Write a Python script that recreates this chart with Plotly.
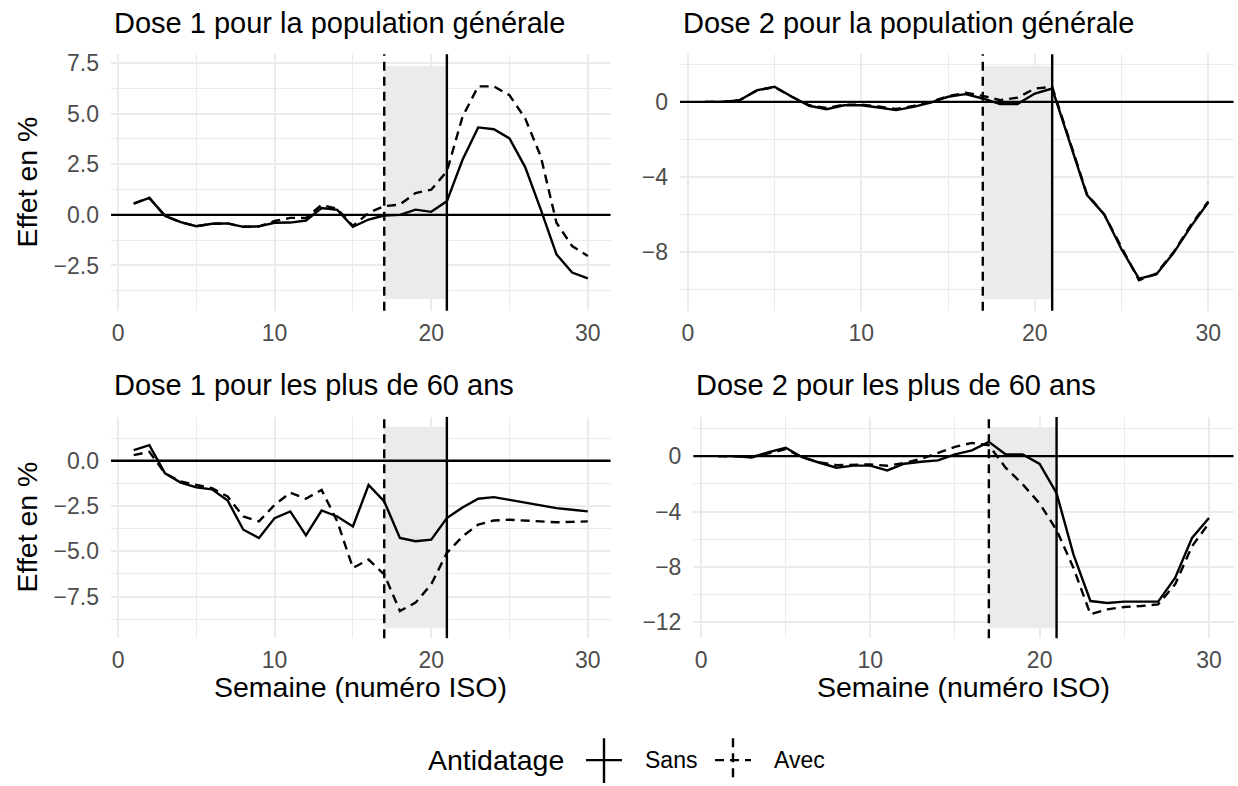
import plotly.graph_objects as go

W, H = 1238, 786

weeks = list(range(1, 31))

titles = ["Dose 1 pour la population générale", "Dose 2 pour la population générale",
          "Dose 1 pour les plus de 60 ans", "Dose 2 pour les plus de 60 ans"]

p1_sans = [0.56, 0.84, -0.05, -0.36, -0.56, -0.44, -0.42, -0.59, -0.57, -0.39, -0.38, -0.28, 0.34, 0.25, -0.59,
           -0.23, -0.03, 0.00, 0.26, 0.15, 0.67, 2.72, 4.32, 4.23, 3.78, 2.36, 0.26, -1.95, -2.85, -3.14]
p1_avec = [0.56, 0.84, -0.05, -0.36, -0.56, -0.44, -0.42, -0.59, -0.57, -0.30, -0.15, -0.15, 0.49, 0.30, -0.55,
           0.10, 0.43, 0.51, 1.08, 1.24, 2.15, 4.85, 6.35, 6.35, 5.91, 4.77, 2.88, -0.39, -1.54, -2.03]

p2_sans = [0.0, 0.0, 0.09, 0.62, 0.80, 0.27, -0.21, -0.39, -0.18, -0.18, -0.30, -0.44, -0.27, -0.04, 0.27,
           0.41, 0.18, -0.12, -0.12, 0.44, 0.71, -2.10, -4.95, -6.00, -7.86, -9.42, -9.19, -8.04, -6.63, -5.35]
p2_avec = [0.0, 0.0, 0.09, 0.62, 0.78, 0.27, -0.18, -0.33, -0.15, -0.15, -0.25, -0.38, -0.22, 0.00, 0.30,
           0.48, 0.32, 0.09, 0.22, 0.71, 0.80, -2.00, -4.90, -6.00, -7.75, -9.50, -9.15, -8.00, -6.55, -5.30]

p3_sans = [0.59, 0.86, -0.70, -1.21, -1.47, -1.58, -2.20, -3.81, -4.27, -3.17, -2.80, -4.12, -2.75, -3.08, -3.63,
           -1.34, -2.25, -4.27, -4.45, -4.36, -3.17, -2.58, -2.10, -2.01, -2.16, -2.31, -2.49, -2.62, -2.71, -2.80]
p3_avec = [0.31, 0.49, -0.70, -1.15, -1.34, -1.52, -1.98, -3.08, -3.35, -2.44, -1.76, -2.10, -1.61, -3.35, -5.92,
           -5.46, -6.28, -8.30, -7.84, -6.83, -5.09, -4.18, -3.53, -3.30, -3.26, -3.30, -3.35, -3.40, -3.38, -3.35]

p4_sans = [0.0, 0.0, -0.10, 0.29, 0.60, -0.10, -0.48, -0.84, -0.69, -0.69, -1.03, -0.55, -0.41, -0.31, 0.12,
           0.41, 1.03, 0.12, 0.12, -0.57, -2.68, -7.11, -10.46, -10.60, -10.50, -10.50, -10.50, -8.79, -5.91, -4.47]
p4_avec = [0.0, 0.0, -0.05, 0.20, 0.50, -0.10, -0.45, -0.65, -0.60, -0.60, -0.70, -0.50, -0.20, 0.22, 0.67,
           0.95, 0.78, -0.85, -2.04, -3.42, -5.34, -8.07, -11.42, -11.06, -10.89, -10.82, -10.70, -9.26, -6.51, -4.84]

sans_series = [p1_sans, p2_sans, p3_sans, p4_sans]
avec_series = [p1_avec, p2_avec, p3_avec, p4_avec]

# shaded window and reference weeks
shade_weeks = [17, 21]
shade_low = [-4.16, -10.51, -9.25, -12.42]
shade_high = [7.36, 1.91, 1.87, 2.10]
vline_dashed_week = 17
vline_solid_week = 21

y_ranges = [[-4.74, 7.93], [-11.13, 2.53], [-9.80, 2.42], [-13.14, 2.83]]
y_ticks = [[-2.5, 0, 2.5, 5, 7.5], [-8, -4, 0], [-7.5, -5, -2.5, 0], [-12, -8, -4, 0]]
y_ticktext = [["\u22122.5", "0.0", "2.5", "5.0", "7.5"], ["\u22128", "\u22124", "0"],
              ["\u22127.5", "\u22125.0", "\u22122.5", "0.0"], ["\u221212", "\u22128", "\u22124", "0"]]
y_minor = [[-3.75, -1.25, 1.25, 3.75, 6.25], [-10, -6, -2, 2], [-8.75, -6.25, -3.75, -1.25, 1.25],
           [-10, -6, -2, 2]]
x_ticks = [0, 10, 20, 30]
x_minor = [5, 15, 25]

# panel boxes in pixels (left, right, top, bottom)
boxes = [(111, 610.5, 50.6, 308.4), (680, 1233.5, 50.6, 308.4),
         (111, 610.5, 415, 637.4), (693.4, 1233.5, 415, 637.4)]

FONT = "Liberation Sans"
GRID = "#EBEBEB"
LW = 2.4
DASH = "9px,6px"

fig = go.Figure()
shapes = []
annotations = []

for i in range(4):
    sfx = "" if i == 0 else str(i + 1)
    xa, ya = "x" + sfx, "y" + sfx
    l, r, t, b = boxes[i]
    fig.add_trace(go.Scatter(x=weeks, y=sans_series[i], mode="lines", xaxis=xa, yaxis=ya,
                             line=dict(color="black", width=LW), name="Sans", showlegend=False))
    fig.add_trace(go.Scatter(x=weeks, y=avec_series[i], mode="lines", xaxis=xa, yaxis=ya,
                             line=dict(color="black", width=LW, dash=DASH), name="Avec", showlegend=False))
    axis_common = dict(showline=False, zeroline=False, ticks="", gridcolor=GRID, gridwidth=2,
                       tickfont=dict(family=FONT, size=23, color="#4D4D4D"))
    fig.layout["xaxis" + sfx] = dict(domain=[l / W, r / W], anchor=ya, range=[-0.45, 31.45],
                                     tickmode="array", tickvals=x_ticks, ticklabelstandoff=6,
                                     minor=dict(tickvals=x_minor, showgrid=True, gridcolor=GRID, gridwidth=1.1),
                                     **axis_common)
    fig.layout["yaxis" + sfx] = dict(domain=[1 - b / H, 1 - t / H], anchor=xa, range=y_ranges[i],
                                     tickmode="array", tickvals=y_ticks[i], ticktext=y_ticktext[i],
                                     ticklabelstandoff=11,
                                     minor=dict(tickvals=y_minor[i], showgrid=True, gridcolor=GRID, gridwidth=1.1),
                                     **axis_common)
    shapes.append(dict(type="rect", xref=xa, yref=ya, x0=shade_weeks[0], x1=shade_weeks[1],
                       y0=shade_low[i], y1=shade_high[i], fillcolor="#EBEBEB", line=dict(width=0), layer="below"))
    shapes.append(dict(type="line", xref=xa, yref=ya + " domain", x0=vline_dashed_week, x1=vline_dashed_week,
                       y0=0, y1=1, line=dict(color="black", width=LW, dash=DASH), layer="above"))
    shapes.append(dict(type="line", xref=xa, yref=ya + " domain", x0=vline_solid_week, x1=vline_solid_week,
                       y0=0, y1=1, line=dict(color="black", width=LW), layer="above"))
    shapes.append(dict(type="line", xref=xa + " domain", yref=ya, x0=0, x1=1, y0=0, y1=0,
                       line=dict(color="black", width=LW), layer="above"))
    # panel title
    annotations.append(dict(text=titles[i], xref="paper", yref="paper", x=(l + 0.5) / W,
                            y=1 - (t - 32) / H, xanchor="left", yanchor="middle", showarrow=False,
                            font=dict(family=FONT, size=29, color="black")))

# axis titles
for t, b in [(50.6, 308.4), (415, 637.4)]:
    annotations.append(dict(text="Effet en %", xref="paper", yref="paper", x=27 / W, y=1 - (t + b) / 2 / H,
                            xanchor="center", yanchor="middle", textangle=-90, showarrow=False,
                            font=dict(family=FONT, size=28.5, color="black")))
for l, r in [(111, 610.5), (693.4, 1233.5)]:
    annotations.append(dict(text="Semaine (numéro ISO)", xref="paper", yref="paper", x=(l + r) / 2 / W,
                            y=1 - 686 / H, xanchor="center", yanchor="middle", showarrow=False,
                            font=dict(family=FONT, size=28.5, color="black")))

# manual legend
ly = 760
annotations.append(dict(text="Antidatage", xref="paper", yref="paper", x=426 / W, y=1 - ly / H,
                        xanchor="left", yanchor="middle", showarrow=False,
                        font=dict(family=FONT, size=28.5, color="black")))
legend_items = [("Sans", None, 604, 643), ("Avec", DASH, 733, 772)]
for label, dash, cx, tx in legend_items:
    ld = dict(color="black", width=LW)
    if dash:
        ld["dash"] = dash
    shapes.append(dict(type="line", xref="paper", yref="paper", x0=(cx - 18) / W, x1=(cx + 18) / W,
                       y0=1 - ly / H, y1=1 - ly / H, line=ld))
    shapes.append(dict(type="line", xref="paper", yref="paper", x0=cx / W, x1=cx / W,
                       y0=1 - 738 / H, y1=1 - 783 / H, line=ld))
    annotations.append(dict(text=label, xref="paper", yref="paper", x=tx / W, y=1 - ly / H,
                            xanchor="left", yanchor="middle", showarrow=False,
                            font=dict(family=FONT, size=23, color="black")))

fig.update_layout(width=W, height=H, margin=dict(l=0, r=0, t=0, b=0),
                  paper_bgcolor="white", plot_bgcolor="white", showlegend=False,
                  shapes=shapes, annotations=annotations, font=dict(family=FONT))

fig.write_html("out.html")
